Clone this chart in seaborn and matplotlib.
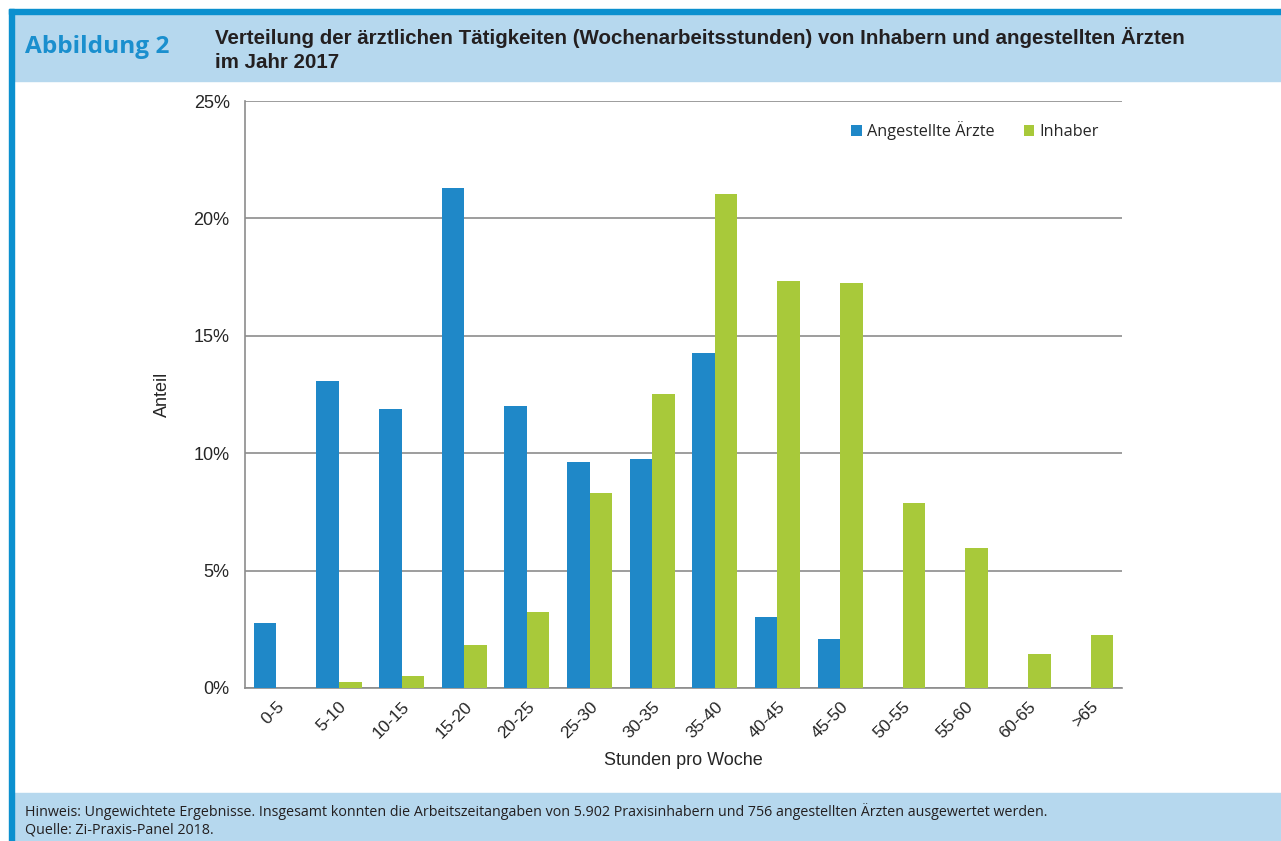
import pandas as pd
import seaborn as sns
import matplotlib.pyplot as plt
from matplotlib.patches import Rectangle
from matplotlib.ticker import PercentFormatter

# Daten (in Prozent)
kategorien = ["0-5", "5-10", "10-15", "15-20", "20-25", "25-30", "30-35",
              "35-40", "40-45", "45-50", "50-55", "55-60", "60-65", ">65"]
angestellte = [2.77, 13.07, 11.88, 21.30, 12.01, 9.63, 9.75,
               14.27, 3.02, 2.09, 0, 0, 0, 0]
inhaber = [0, 0.26, 0.51, 1.83, 3.24, 8.30, 12.52,
           21.04, 17.33, 17.25, 7.88, 5.96, 1.45, 2.26]
gruppen = ["Angestellte Ärzte", "Inhaber"]
farben = ["#1F88C8", "#A8C93A"]

sns.set_theme(style="white")
plt.rcParams['font.family'] = ['Liberation Sans', 'DejaVu Sans']

df = pd.DataFrame({
    "Stunden": kategorien * 2,
    "Anteil": angestellte + inhaber,
    "Gruppe": [gruppen[0]] * len(kategorien) + [gruppen[1]] * len(kategorien),
})

fig = plt.figure(figsize=(12.81, 8.41), dpi=100)
W, H = 1281, 841

def px_rect(x0, y0, x1, y1, color):
    # Rechteck in Pixelkoordinaten (oben links als Ursprung)
    fig.patches.append(Rectangle((x0 / W, 1 - y1 / H), (x1 - x0) / W, (y1 - y0) / H,
                                 transform=fig.transFigure, color=color, zorder=0))

hellblau = "#B6D8EE"
dunkelblau = "#0B90CF"
px_rect(14, 14, W, 81, hellblau)
px_rect(14, 793, W, H, hellblau)
px_rect(9, 9, W, 14, dunkelblau)
px_rect(9, 9, 14, H, dunkelblau)

ax = fig.add_axes([245 / W, 1 - 688 / H, (1122 - 245) / W, (688 - 101) / H])
sns.barplot(data=df, x="Stunden", y="Anteil", hue="Gruppe", palette=farben,
            width=0.72, gap=0, saturation=1, ax=ax, edgecolor="none", zorder=3)

ax.set_ylim(0, 25)
ax.set_yticks([0, 5, 10, 15, 20, 25])
ax.yaxis.set_major_formatter(PercentFormatter(decimals=0))
ax.grid(axis="y", color="#8C8C8C", linewidth=1.2, zorder=0)
ax.set_axisbelow(True)
for s in ["top", "right"]:
    ax.spines[s].set_visible(False)
for s in ["left", "bottom"]:
    ax.spines[s].set_color("#8C8C8C")
    ax.spines[s].set_linewidth(1.2)
ax.tick_params(axis="y", length=5, color="#8C8C8C", width=1.2, labelsize=13, pad=6)
ax.tick_params(axis="x", length=0, labelsize=12.5, pad=8)
plt.setp(ax.get_xticklabels(), rotation=45, ha="right", rotation_mode="anchor")
ax.set_xlim(-0.5, len(kategorien) - 0.5)

ax.set_xlabel("Stunden pro Woche", fontsize=13, labelpad=8)
ax.set_ylabel("Anteil", fontsize=13, labelpad=16)

ax.legend(loc="upper right", bbox_to_anchor=(0.99, 0.99), ncol=2, frameon=False,
          handlelength=0.65, handleheight=0.65, handletextpad=0.3,
          columnspacing=1.8, prop={"family": ["Open Sans", "DejaVu Sans"], "size": 11.7})

fig.text(25 / W, 1 - 47 / H, "Abbildung 2", fontsize=17.6, fontweight="bold",
         color="#1A8FCE", va="center", family=["Open Sans", "DejaVu Sans"])
fig.text(215 / W, 1 - 37 / H,
         "Verteilung der ärztlichen Tätigkeiten (Wochenarbeitsstunden) von Inhabern und angestellten Ärzten",
         fontsize=14.8, fontweight="bold", color="#231F20", va="center")
fig.text(215 / W, 1 - 63 / H, "im Jahr 2017",
         fontsize=14.8, fontweight="bold", color="#231F20", va="center")

fig.text(25 / W, 1 - 812 / H,
         "Hinweis: Ungewichtete Ergebnisse. Insgesamt konnten die Arbeitszeitangaben von 5.902 Praxisinhabern und 756 angestellten Ärzten ausgewertet werden.",
         fontsize=10.25, color="#231F20", va="center", family=["Open Sans", "DejaVu Sans"])
fig.text(25 / W, 1 - 830 / H, "Quelle: Zi-Praxis-Panel 2018.",
         fontsize=10.25, color="#231F20", va="center", family=["Open Sans", "DejaVu Sans"])

fig.savefig("out.png", dpi=100)
